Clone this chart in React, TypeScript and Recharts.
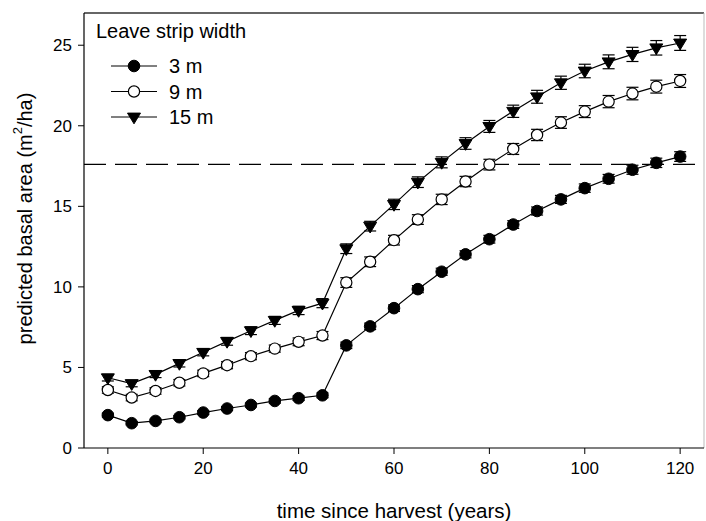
import React from "react";
import {
  LineChart,
  Line,
  XAxis,
  YAxis,
  ErrorBar,
  ReferenceLine,
} from "recharts";

const years = [0, 5, 10, 15, 20, 25, 30, 35, 40, 45, 50, 55, 60, 65, 70, 75, 80, 85, 90, 95, 100, 105, 110, 115, 120];
const strip3 = [2.04, 1.54, 1.68, 1.91, 2.2, 2.45, 2.67, 2.92, 3.09, 3.27, 6.37, 7.55, 8.68, 9.86, 10.94, 12.02, 12.96, 13.87, 14.71, 15.43, 16.13, 16.71, 17.27, 17.7, 18.09];
const strip9 = [3.6, 3.13, 3.54, 4.05, 4.63, 5.14, 5.7, 6.17, 6.59, 6.98, 10.27, 11.56, 12.9, 14.18, 15.43, 16.54, 17.59, 18.56, 19.43, 20.2, 20.88, 21.5, 22.0, 22.43, 22.78];
const strip15 = [4.36, 4.0, 4.57, 5.25, 5.94, 6.62, 7.28, 7.92, 8.54, 8.99, 12.37, 13.77, 15.12, 16.5, 17.73, 18.9, 19.96, 20.9, 21.8, 22.67, 23.4, 23.97, 24.43, 24.84, 25.14];
const err3 = [0.12, 0.1, 0.1, 0.1, 0.12, 0.12, 0.12, 0.14, 0.14, 0.15, 0.2, 0.2, 0.2, 0.22, 0.22, 0.22, 0.24, 0.24, 0.25, 0.25, 0.26, 0.27, 0.28, 0.29, 0.3];
const err9 = [0.2, 0.2, 0.2, 0.2, 0.2, 0.22, 0.22, 0.22, 0.24, 0.25, 0.3, 0.3, 0.3, 0.3, 0.32, 0.32, 0.33, 0.34, 0.35, 0.36, 0.37, 0.38, 0.39, 0.4, 0.4];
const err15 = [0.2, 0.2, 0.2, 0.22, 0.22, 0.24, 0.24, 0.25, 0.26, 0.28, 0.3, 0.3, 0.32, 0.33, 0.34, 0.36, 0.37, 0.38, 0.4, 0.41, 0.42, 0.43, 0.44, 0.45, 0.46];
const xTicks = [0, 20, 40, 60, 80, 100, 120];
const yTicks = [0, 5, 10, 15, 20, 25];
const threshold = 17.6;
const legendTitle = "Leave strip width";
const seriesNames = ["3 m", "9 m", "15 m"];

const data = years.map((t, i) => ({
  t,
  s3: strip3[i],
  s9: strip9[i],
  s15: strip15[i],
  e3: err3[i],
  e9: err9[i],
  e15: err15[i],
}));

const FONT = "'Liberation Sans', Arial, sans-serif";

const FilledDot = (p: any) => {
  const { cx, cy } = p;
  if (cx == null || cy == null) return null;
  return <circle cx={cx} cy={cy} r={5.8} fill="#000" stroke="#000" strokeWidth={1} />;
};
const OpenDot = (p: any) => {
  const { cx, cy } = p;
  if (cx == null || cy == null) return null;
  return <circle cx={cx} cy={cy} r={5.6} fill="#fff" stroke="#000" strokeWidth={1.2} />;
};
const TriDot = (p: any) => {
  const { cx, cy } = p;
  if (cx == null || cy == null) return null;
  const s = 6.5;
  return (
    <path
      d={`M${cx - s},${cy - s * 0.6} L${cx + s},${cy - s * 0.6} L${cx},${cy + s * 1.05} Z`}
      fill="#000"
      stroke="#000"
      strokeWidth={1}
    />
  );
};

const LegendBox = () => {
  const rows = [
    { name: seriesNames[0], Shape: FilledDot },
    { name: seriesNames[1], Shape: OpenDot },
    { name: seriesNames[2], Shape: TriDot },
  ];
  return (
    <svg width={220} height={120} style={{ display: "block" }}>
      <text x={6} y={24} fontSize={20} fontFamily={FONT} fill="#000">
        {legendTitle}
      </text>
      {rows.map((r, i) => {
        const y = 52 + i * 25.5;
        return (
          <g key={r.name}>
            <line x1={21} x2={67} y1={y} y2={y} stroke="#000" strokeWidth={1} />
            <r.Shape cx={44} cy={y} />
            <text x={79} y={y + 7} fontSize={20} fontFamily={FONT} fill="#000">
              {r.name}
            </text>
          </g>
        );
      })}
    </svg>
  );
};

const YLabel = (props: any) => {
  const vb = props.viewBox || {};
  const cx = 25;
  const cy = (vb.y ?? 13) + (vb.height ?? 435) / 2 - 12;
  return (
    <text
      x={cx}
      y={cy}
      transform={`rotate(-90, ${cx}, ${cy})`}
      textAnchor="middle"
      dominantBaseline="central"
      fontSize={20}
      fontFamily={FONT}
      fill="#000"
    >
      predicted basal area (m
      <tspan dy={-8} fontSize={13}>2</tspan>
      <tspan dy={8}>/ha)</tspan>
    </text>
  );
};

export default function App() {
  return (
    <div style={{ position: "absolute", left: 0, top: 0, width: 706, height: 521, background: "#fff" }}>
      <LineChart
        width={706}
        height={521}
        data={data}
        margin={{ top: 13, right: 2, bottom: 0, left: 0 }}
        style={{ fontFamily: FONT }}
      >
        <XAxis
          dataKey="t"
          type="number"
          domain={[-5, 125]}
          ticks={xTicks}
          allowDataOverflow
          height={73}
          tickSize={6}
          tickMargin={8}
          stroke="#000"
          tick={{ fill: "#000", fontSize: 17, fontFamily: FONT }}
          axisLine={{ stroke: "#000", strokeWidth: 1.2 }}
          tickLine={{ stroke: "#000" }}
          label={{
            value: "time since harvest (years)",
            position: "insideBottom",
            offset: 3,
            fontSize: 20.5,
            fontFamily: FONT,
            fill: "#000",
          }}
        />
        <YAxis
          type="number"
          domain={[0, 27]}
          ticks={yTicks}
          allowDataOverflow
          width={84}
          tickSize={6}
          tickMargin={6}
          stroke="#000"
          tick={{ fill: "#000", fontSize: 17, fontFamily: FONT }}
          axisLine={{ stroke: "#000", strokeWidth: 1.2 }}
          tickLine={{ stroke: "#000" }}
          label={<YLabel />}
        />
        <ReferenceLine y={27} stroke="#333" strokeWidth={1.5} ifOverflow="visible" />
        <ReferenceLine x={125} stroke="#bbb" strokeWidth={1} ifOverflow="visible" />
        <ReferenceLine y={threshold} stroke="#000" strokeWidth={1.3} strokeDasharray="22 9" />
        <Line
          dataKey="s3"
          name={seriesNames[0]}
          stroke="#000"
          strokeWidth={1.2}
          dot={<FilledDot />}
          isAnimationActive={false}
        >
          <ErrorBar dataKey="e3" width={6} stroke="#000" strokeWidth={1.2} direction="y" />
        </Line>
        <Line
          dataKey="s9"
          name={seriesNames[1]}
          stroke="#000"
          strokeWidth={1.2}
          dot={<OpenDot />}
          isAnimationActive={false}
        >
          <ErrorBar dataKey="e9" width={6} stroke="#000" strokeWidth={1.2} direction="y" />
        </Line>
        <Line
          dataKey="s15"
          name={seriesNames[2]}
          stroke="#000"
          strokeWidth={1.2}
          dot={<TriDot />}
          isAnimationActive={false}
        >
          <ErrorBar dataKey="e15" width={6} stroke="#000" strokeWidth={1.2} direction="y" />
        </Line>
      </LineChart>
      <div style={{ position: "absolute", left: 90, top: 14 }}>
        <LegendBox />
      </div>
    </div>
  );
}
